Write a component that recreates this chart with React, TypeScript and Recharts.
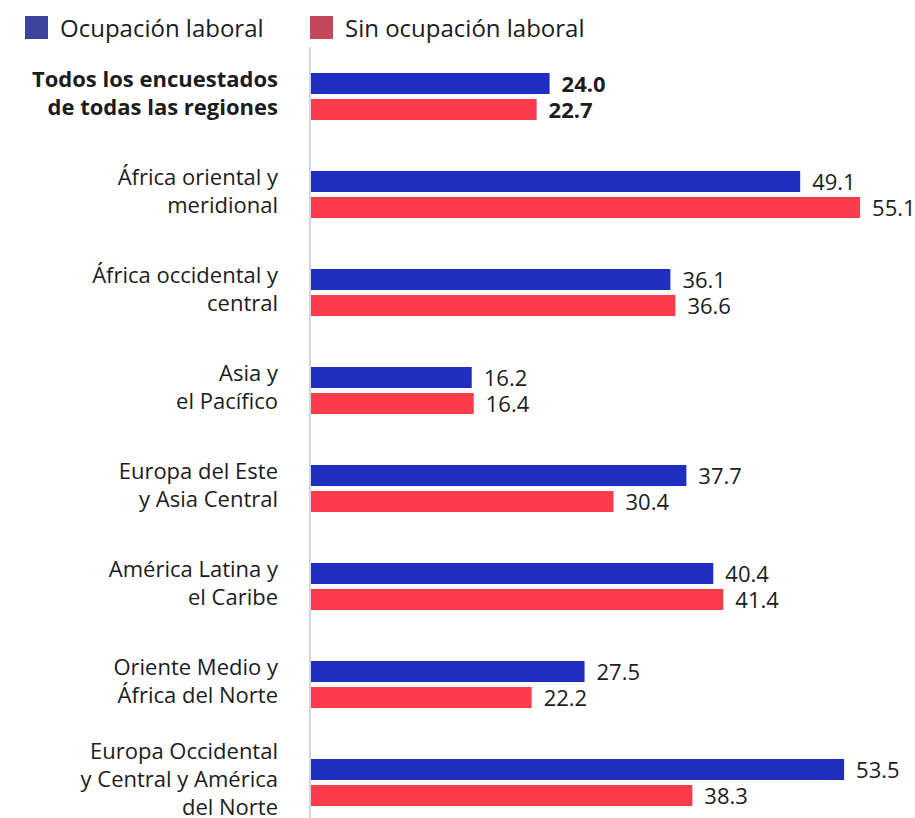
import { Bar, BarChart, LabelList, XAxis, YAxis } from 'recharts';

// Regions (line breaks mark where the axis label wraps)
const regions = [
  'Todos los encuestados\nde todas las regiones',
  'África oriental y\nmeridional',
  'África occidental y\ncentral',
  'Asia y\nel Pacífico',
  'Europa del Este\ny Asia Central',
  'América Latina y\nel Caribe',
  'Oriente Medio y\nÁfrica del Norte',
  'Europa Occidental\ny Central y América\ndel Norte',
];
const employed = [24.0, 49.1, 36.1, 16.2, 37.7, 40.4, 27.5, 53.5];
const notEmployed = [22.7, 55.1, 36.6, 16.4, 30.4, 41.4, 22.2, 38.3];

const seriesNames = ['Ocupación laboral', 'Sin ocupación laboral'];

const data = regions.map((region, i) => ({
  region,
  employed: employed[i],
  notEmployed: notEmployed[i],
}));

const FONT = '"Open Sans", "Noto Sans", sans-serif';
const TEXT = '#1c1c1c';
const BAR_BLUE = '#1f2ebe';
const BAR_RED = '#fd3b4b';
const LEGEND_BLUE = '#39449a';
const LEGEND_RED = '#c3485a';

const RegionTick = (props: any) => {
  const { x, y, payload, index } = props;
  const lines = String(payload.value).split('\n');
  const lineHeight = 28;
  const startDy = -((lines.length - 1) / 2) * lineHeight + 5;
  return (
    <text
      x={x}
      y={y}
      textAnchor="end"
      fill={TEXT}
      fontSize={22}
      fontFamily={FONT}
      fontWeight={index === 0 ? 700 : 400}
    >
      {lines.map((line, i) => (
        <tspan key={i} x={x} dy={i === 0 ? startDy : lineHeight}>
          {line}
        </tspan>
      ))}
    </text>
  );
};

const ValueLabel = (props: any) => {
  const { x, y, width, height, value, index } = props;
  return (
    <text
      x={x + width + 12}
      y={y + height / 2 + 8}
      fill={TEXT}
      fontSize={22}
      fontFamily={FONT}
      fontWeight={index === 0 ? 700 : 400}
    >
      {Number(value).toFixed(1)}
    </text>
  );
};

const legendItems = [
  { name: seriesNames[0], color: LEGEND_BLUE, left: 25 },
  { name: seriesNames[1], color: LEGEND_RED, left: 310 },
];

export default function App() {
  return (
    <div
      style={{
        position: 'fixed',
        top: 0,
        left: 0,
        width: 915,
        height: 818,
        overflow: 'hidden',
        background: '#fff',
      }}
    >
      {legendItems.map(item => (
        <div
          key={item.name}
          style={{
            position: 'absolute',
            top: 11,
            left: item.left,
            display: 'flex',
            alignItems: 'center',
            fontFamily: FONT,
            fontSize: 24,
            color: TEXT,
          }}
        >
          <span
            style={{
              display: 'inline-block',
              width: 23,
              height: 23,
              background: item.color,
              marginRight: 12,
            }}
          />
          {item.name}
        </div>
      ))}
      <div style={{ position: 'absolute', top: 0, left: 0 }}>
        <BarChart
          width={915}
          height={840}
          data={data}
          layout="vertical"
          margin={{ top: 47, right: 6, bottom: 9, left: 0 }}
          barSize={21}
          barGap={5}
        >
          <XAxis type="number" domain={[0, 60]} hide />
          <YAxis
            type="category"
            dataKey="region"
            width={310}
            tickLine={false}
            tickSize={0}
            tickMargin={32}
            axisLine={{ stroke: '#d0d6e6', strokeWidth: 2 }}
            tick={<RegionTick />}
            interval={0}
          />
          <Bar
            dataKey="employed"
            name={seriesNames[0]}
            fill={BAR_BLUE}
            isAnimationActive={false}
          >
            <LabelList dataKey="employed" content={<ValueLabel />} />
          </Bar>
          <Bar
            dataKey="notEmployed"
            name={seriesNames[1]}
            fill={BAR_RED}
            isAnimationActive={false}
          >
            <LabelList dataKey="notEmployed" content={<ValueLabel />} />
          </Bar>
        </BarChart>
      </div>
    </div>
  );
}
